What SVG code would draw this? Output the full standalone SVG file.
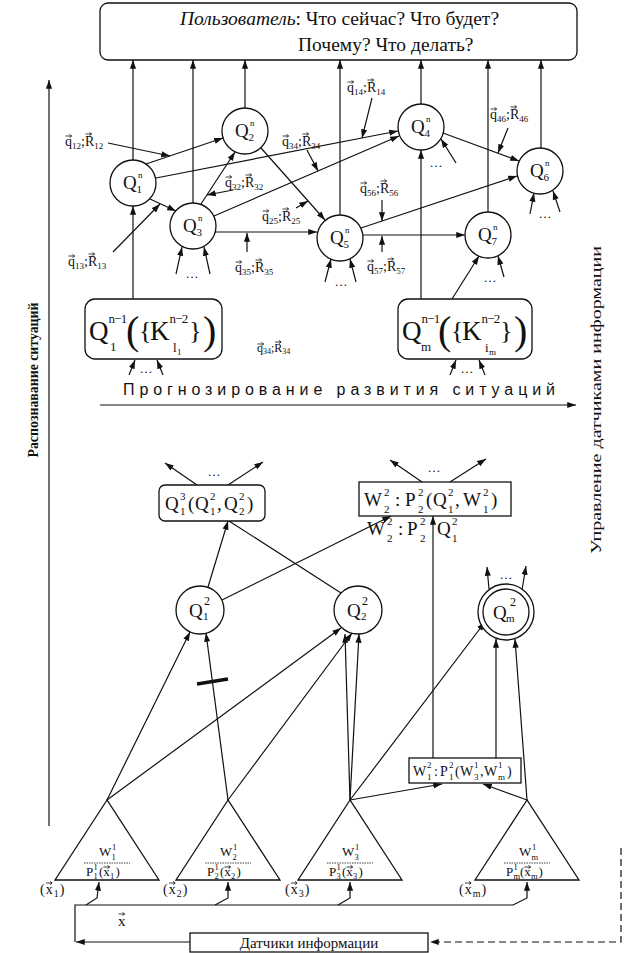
<svg xmlns="http://www.w3.org/2000/svg" width="630" height="953" viewBox="0 0 630 953">
<defs>
<marker id="ah" viewBox="0 0 10 8" refX="10" refY="4" markerWidth="9" markerHeight="7" markerUnits="userSpaceOnUse" orient="auto"><path d="M0,0.5 L10,4 L0,7.5 z" fill="#111"/></marker>
<path id="va" d="M0,0 h6 M4,-1.6 L6.2,0 L4,1.6" fill="none" stroke="#111" stroke-width="0.8"/>
</defs>
<style>
.ln{fill:none;stroke:#111;stroke-width:1.2}
.ar{marker-end:url(#ah)}
.nd{fill:#fff;stroke:#111;stroke-width:1.3}
.bx{fill:#fff;stroke:#111;stroke-width:1.3}
text{font-family:"Liberation Serif","Times New Roman",serif;fill:#111}
.lb{font-size:14px}
.sb{font-size:9px}
.dt{font-size:13px;text-anchor:middle}
.qn{font-size:19px}
.sc{font-size:11px}
.tr{font-size:13px}
.ts{font-size:8.5px}
.sans{font-family:"Liberation Sans",Arial,sans-serif}
</style>
<rect width="630" height="953" fill="#fff"/>

<g id="connectors">
<path class="ln ar" d="M133,160V60"/>
<path class="ln ar" d="M193,203V60"/>
<path class="ln ar" d="M245,108V60"/>
<path class="ln ar" d="M340,215V60"/>
<path class="ln ar" d="M421,104V60"/>
<path class="ln ar" d="M488,212V60"/>
<path class="ln ar" d="M541,148V60"/>
<path class="ln ar" d="M146,164L223,138"/>
<path class="ln ar" d="M156,178L398,131"/>
<path class="ln ar" d="M150,199L176,211"/>
<path class="ln ar" d="M201,204L235,152"/>
<path class="ln ar" d="M214,216L399,136"/>
<path class="ln ar" d="M261,148L325,220"/>
<path class="ln ar" d="M215,232H317"/>
<path class="ln ar" d="M361,228L517,176"/>
<path class="ln ar" d="M363,235H465"/>
<path class="ln ar" d="M443,133L519,161"/>
<path class="ln ar" d="M133,299V206"/>
<path class="ln ar" d="M421,299V150"/>
<path class="ln ar" d="M452,299L479,256"/>
<path class="ln ar" d="M504,277L498,256"/>
<path class="ln ar" d="M456,163L441,139"/>
<path class="ln ar" d="M176,274L182,247"/>
<path class="ln ar" d="M210,274L204,247"/>
<path class="ln ar" d="M325,282L331,259"/>
<path class="ln ar" d="M356,282L350,259"/>
<path class="ln ar" d="M530,214L534,193"/>
<path class="ln ar" d="M560,212L553,191"/>
<path class="ln ar" d="M108,143L170,156"/>
<path class="ln ar" d="M113,252L160,204"/>
<path class="ln ar" d="M233,190L207,195"/>
<path class="ln ar" d="M307,150L318,171"/>
<path class="ln ar" d="M372,98L362,138"/>
<path class="ln ar" d="M296,208L308,201"/>
<path class="ln ar" d="M247,252V233"/>
<path class="ln ar" d="M382,200V221"/>
<path class="ln ar" d="M382,252V236"/>
<path class="ln ar" d="M508,128L498,153"/>
<path class="ln ar" d="M129,375L135,360"/>
<path class="ln ar" d="M163,375L157,360"/>
<path class="ln ar" d="M450,375L456,360"/>
<path class="ln ar" d="M485,375L479,360"/>
<path class="ln ar" d="M100,405H576"/>
<path class="ln ar" d="M49,826V80"/>
<path class="ln ar" d="M197,485L165,463"/>
<path class="ln ar" d="M228,485L263,462"/>
<path class="ln ar" d="M422,482L390,460"/>
<path class="ln ar" d="M450,482L486,459"/>
<path class="ln ar" d="M489,589L487,567"/>
<path class="ln ar" d="M522,590L526,566"/>
<path class="ln ar" d="M208,587L228,521"/>
<path class="ln" d="M341,593L229,521"/>
<path class="ln ar" d="M222,600L391,516"/>
<path class="ln ar" d="M433,758V516"/>
<path class="ln ar" d="M496,758V639"/>
<path class="ln ar" d="M107,800L190,632"/>
<path class="ln ar" d="M107,800L341,628"/>
<path class="ln ar" d="M228,800L206,633"/>
<path class="ln ar" d="M228,800L352,633"/>
<path class="ln ar" d="M350,800L345,634"/>
<path class="ln ar" d="M350,800L359,634"/>
<path class="ln ar" d="M350,800L485,622"/>
<path class="ln ar" d="M350,800L442,784"/>
<path class="ln ar" d="M527,800L483,784"/>
<path class="ln ar" d="M527,800L515,639"/>
<path d="M197,684L228,679" fill="none" stroke="#111" stroke-width="3.5"/>
<path class="ln ar" d="M190,942H76"/>
<path class="ln" d="M75,942V905H513"/>
<path class="ln ar" d="M86,905L97,898L99,882"/>
<path class="ln ar" d="M215,905L228,898L228,882"/>
<path class="ln ar" d="M338,905L350,898L350,882"/>
<path class="ln ar" d="M513,905L527,898L527,882"/>
<path class="ln ar" d="M621,848V942H430" stroke-dasharray="7,4"/>
</g>

<g id="user">
<rect class="bx" x="100" y="3" width="477" height="57" rx="8"/>
<text x="180" y="25" font-size="19.5"><tspan font-style="italic">Пользователь</tspan>: Что сейчас? Что будет?</text>
<text x="298" y="51" font-size="19.5">Почему? Что делать?</text>
</g>

<g id="Q1n"><circle class="nd" cx="133" cy="183" r="23"/><text class="qn" x="123" y="189">Q</text><text class="sc" x="136.5" y="193">1</text><text class="sb" x="138" y="178">n</text></g>
<g id="Q2n"><circle class="nd" cx="245" cy="131" r="23"/><text class="qn" x="235" y="137">Q</text><text class="sc" x="248.5" y="141">2</text><text class="sb" x="250" y="126">n</text></g>
<g id="Q3n"><circle class="nd" cx="193" cy="226" r="23"/><text class="qn" x="183" y="232">Q</text><text class="sc" x="196.5" y="236">3</text><text class="sb" x="198" y="221">n</text></g>
<g id="Q4n"><circle class="nd" cx="421" cy="127" r="23"/><text class="qn" x="411" y="133">Q</text><text class="sc" x="424.5" y="137">4</text><text class="sb" x="426" y="122">n</text></g>
<g id="Q5n"><circle class="nd" cx="340" cy="238" r="23"/><text class="qn" x="330" y="244">Q</text><text class="sc" x="343.5" y="248">5</text><text class="sb" x="345" y="233">n</text></g>
<g id="Q6n"><circle class="nd" cx="540" cy="171" r="23"/><text class="qn" x="530" y="177">Q</text><text class="sc" x="543.5" y="181">6</text><text class="sb" x="545" y="166">n</text></g>
<g id="Q7n"><circle class="nd" cx="488" cy="235" r="23"/><text class="qn" x="478" y="241">Q</text><text class="sc" x="491.5" y="245">7</text><text class="sb" x="493" y="230">n</text></g>

<g id="labels">
<g><text class="lb" x="65" y="146">q<tspan class="sb" dy="3">12</tspan><tspan dy="-3">;R</tspan><tspan class="sb" dy="3">12</tspan></text><use href="#va" x="65.5" y="136"/><use href="#va" x="85.5" y="134"/></g>
<g><text class="lb" x="68" y="266">q<tspan class="sb" dy="3">13</tspan><tspan dy="-3">;R</tspan><tspan class="sb" dy="3">13</tspan></text><use href="#va" x="68.5" y="256"/><use href="#va" x="88.5" y="254"/></g>
<g><text class="lb" x="225" y="187">q<tspan class="sb" dy="3">32</tspan><tspan dy="-3">;R</tspan><tspan class="sb" dy="3">32</tspan></text><use href="#va" x="225.5" y="177"/><use href="#va" x="245.5" y="175"/></g>
<g><text class="lb" x="282" y="146">q<tspan class="sb" dy="3">34</tspan><tspan dy="-3">;R</tspan><tspan class="sb" dy="3">34</tspan></text><use href="#va" x="282.5" y="136"/><use href="#va" x="302.5" y="134"/></g>
<g><text class="lb" x="347" y="92">q<tspan class="sb" dy="3">14</tspan><tspan dy="-3">;R</tspan><tspan class="sb" dy="3">14</tspan></text><use href="#va" x="347.5" y="82"/><use href="#va" x="367.5" y="80"/></g>
<g><text class="lb" x="262" y="221">q<tspan class="sb" dy="3">25</tspan><tspan dy="-3">;R</tspan><tspan class="sb" dy="3">25</tspan></text><use href="#va" x="262.5" y="211"/><use href="#va" x="282.5" y="209"/></g>
<g><text class="lb" x="235" y="272">q<tspan class="sb" dy="3">35</tspan><tspan dy="-3">;R</tspan><tspan class="sb" dy="3">35</tspan></text><use href="#va" x="235.5" y="262"/><use href="#va" x="255.5" y="260"/></g>
<g><text class="lb" x="360" y="193">q<tspan class="sb" dy="3">56</tspan><tspan dy="-3">;R</tspan><tspan class="sb" dy="3">56</tspan></text><use href="#va" x="360.5" y="183"/><use href="#va" x="380.5" y="181"/></g>
<g><text class="lb" x="367" y="271">q<tspan class="sb" dy="3">57</tspan><tspan dy="-3">;R</tspan><tspan class="sb" dy="3">57</tspan></text><use href="#va" x="367.5" y="261"/><use href="#va" x="387.5" y="259"/></g>
<g><text class="lb" x="490" y="119">q<tspan class="sb" dy="3">46</tspan><tspan dy="-3">;R</tspan><tspan class="sb" dy="3">46</tspan></text><use href="#va" x="490.5" y="109"/><use href="#va" x="510.5" y="107"/></g>
<g><text x="257" y="352" font-size="12">q<tspan font-size="8" dy="2">34</tspan><tspan dy="-2">;R</tspan><tspan font-size="8" dy="2">34</tspan></text><use href="#va" x="257.5" y="344"/><use href="#va" x="275" y="342"/></g>
<text class="dt" x="192" y="278">…</text>
<text class="dt" x="341" y="286">…</text>
<text class="dt" x="545" y="218">…</text>
<text class="dt" x="490" y="282">…</text>
<text class="dt" x="436" y="167">…</text>
<text class="dt" x="146" y="373">…</text>
<text class="dt" x="467" y="373">…</text>
<text class="dt" x="214" y="476">…</text>
<text class="dt" x="434" y="472">…</text>
<text class="dt" x="506" y="579">…</text>
</g>

<g id="Qn1-1">
<rect class="bx" x="85" y="299" width="137" height="60" rx="10"/>
<text x="89" y="340" font-size="27">Q</text>
<text x="108.5" y="323" font-size="13" letter-spacing="-0.8">n−1</text>
<text x="110" y="351" font-size="13">1</text>
<text x="126" y="344" font-size="40">(</text>
<text x="139" y="339" font-size="26">{</text>
<text x="150" y="340" font-size="27">K</text>
<text x="169.5" y="323" font-size="13" letter-spacing="-0.8">n−2</text>
<text x="173" y="352" font-size="13">l</text><text x="177" y="355" font-size="9">1</text>
<text x="189" y="339" font-size="26">}</text>
<text x="203" y="344" font-size="40">)</text>
</g>
<g id="Qn1-m">
<rect class="bx" x="398" y="299" width="134" height="60" rx="10"/>
<text x="402" y="340" font-size="27">Q</text>
<text x="421.5" y="323" font-size="13" letter-spacing="-0.8">n−1</text>
<text x="421" y="351" font-size="13">m</text>
<text x="438" y="344" font-size="40">(</text>
<text x="451" y="339" font-size="26">{</text>
<text x="462" y="340" font-size="27">K</text>
<text x="481.5" y="323" font-size="13" letter-spacing="-0.8">n−2</text>
<text x="485" y="352" font-size="13">i</text><text x="489" y="355" font-size="9">m</text>
<text x="500" y="339" font-size="26">}</text>
<text x="514" y="344" font-size="40">)</text>
</g>

<g id="axes-text">
<text class="sans" x="123" y="395" font-size="16" textLength="432" lengthAdjust="spacing">Прогнозирование развития ситуаций</text>
<text transform="translate(38,380) rotate(-90)" text-anchor="middle" font-family="Liberation Sans Narrow,Liberation Sans,Arial,sans-serif" font-weight="bold" font-size="15" textLength="155" lengthAdjust="spacingAndGlyphs">Распознавание ситуаций</text>
<text transform="translate(601,400) rotate(-90)" text-anchor="middle" font-family="Liberation Sans Narrow,Liberation Sans,Arial,sans-serif" font-size="15" textLength="308" lengthAdjust="spacingAndGlyphs">Управление датчиками информации</text>
</g>

<g id="Q13">
<rect class="bx" x="159" y="485" width="106" height="36" rx="6"/>
<text class="qn" x="165" y="510">Q</text><text class="sc" x="180" y="500">3</text><text class="sc" x="180" y="515">1</text>
<text class="qn" x="188" y="510">(</text>
<text class="qn" x="195" y="510">Q</text><text class="sc" x="210" y="500">2</text><text class="sc" x="210" y="515">1</text>
<text class="qn" x="217" y="510">,</text>
<text class="qn" x="224" y="510">Q</text><text class="sc" x="239" y="500">2</text><text class="sc" x="239" y="515">2</text>
<text class="qn" x="247" y="510">)</text>
</g>
<g id="W22">
<rect class="bx" x="359" y="482" width="152" height="34"/>
<text class="qn" x="364" y="506">W</text><text class="sc" x="384" y="496">2</text><text class="sc" x="384" y="513">2</text>
<text class="qn" x="395" y="506">:</text>
<text class="qn" x="405" y="506">P</text><text class="sc" x="418" y="496">2</text><text class="sc" x="418" y="513">2</text>
<text class="qn" x="426" y="506">(</text>
<text class="qn" x="433" y="506">Q</text><text class="sc" x="448" y="496">2</text><text class="sc" x="448" y="513">1</text>
<text class="qn" x="455" y="506">,</text>
<text class="qn" x="463" y="506">W</text><text class="sc" x="483" y="496">2</text><text class="sc" x="483" y="513">1</text>
<text class="qn" x="491" y="506">)</text>
</g>
<g id="W22-note">
<text class="qn" x="367" y="535">W</text><text class="sc" x="387" y="525">2</text><text class="sc" x="387" y="542">2</text>
<text class="qn" x="398" y="535">:</text>
<text class="qn" x="407" y="535">P</text><text class="sc" x="420" y="525">2</text><text class="sc" x="420" y="542">2</text>
<text class="qn" x="437" y="535">Q</text><text class="sc" x="452" y="525">2</text><text class="sc" x="452" y="542">1</text>
</g>

<g id="Q12"><circle class="nd" cx="200" cy="610" r="24"/><text class="qn" x="189" y="617">Q</text><text class="sc" x="203" y="620">1</text><text font-size="12" x="204" y="605">2</text></g>
<g id="Q22"><circle class="nd" cx="358" cy="610" r="24"/><text class="qn" x="347" y="617">Q</text><text class="sc" x="361" y="620">2</text><text font-size="12" x="362" y="605">2</text></g>
<g id="Qm2"><circle class="nd" cx="506" cy="612" r="28"/><circle class="nd" cx="506" cy="612" r="23"/><text class="qn" x="493" y="619">Q</text><text class="sc" x="506" y="622">m</text><text font-size="12" x="510" y="606">2</text></g>

<g id="W12">
<rect class="bx" x="409" y="758" width="112" height="25"/>
<text x="413" y="776" font-size="14">W</text><text font-size="9" x="427" y="768">2</text><text font-size="9" x="427" y="780">1</text>
<text x="434" y="776" font-size="14">:</text>
<text x="440" y="776" font-size="14">P</text><text font-size="9" x="449" y="768">2</text><text font-size="9" x="449" y="780">1</text>
<text x="455" y="776" font-size="14">(</text>
<text x="460" y="776" font-size="14">W</text><text font-size="9" x="474" y="768">1</text><text font-size="9" x="474" y="780">3</text>
<text x="480" y="776" font-size="14">,</text>
<text x="484" y="776" font-size="14">W</text><text font-size="9" x="498" y="768">1</text><text font-size="9" x="498" y="780">m</text>
<text x="507" y="776" font-size="14">)</text>
</g>

<g id="T1">
<polygon class="nd" points="107,800 55,880 159,880"/>
<text class="tr" x="99" y="856">W</text><text class="ts" x="112" y="850">1</text><text class="ts" x="111.5" y="860">1</text>
<path d="M84,863H130" stroke="#111" stroke-width="0.8" stroke-dasharray="1.5,1"/>
<text class="tr" x="86" y="876">P</text><text class="ts" x="93.5" y="870">1</text><text class="ts" x="93.5" y="879">1</text>
<text class="tr" x="99" y="876">(x</text><text class="ts" x="110" y="879">1</text><text class="tr" x="115.5" y="876">)</text><use href="#va" x="103.5" y="867"/>
</g>
<g id="T2">
<polygon class="nd" points="228,800 176,880 280,880"/>
<text class="tr" x="220" y="856">W</text><text class="ts" x="233" y="850">1</text><text class="ts" x="232.5" y="860">2</text>
<path d="M205,863H251" stroke="#111" stroke-width="0.8" stroke-dasharray="1.5,1"/>
<text class="tr" x="207" y="876">P</text><text class="ts" x="214.5" y="870">1</text><text class="ts" x="214.5" y="879">2</text>
<text class="tr" x="220" y="876">(x</text><text class="ts" x="231" y="879">2</text><text class="tr" x="236.5" y="876">)</text><use href="#va" x="224.5" y="867"/>
</g>
<g id="T3">
<polygon class="nd" points="350,800 298,880 402,880"/>
<text class="tr" x="342" y="856">W</text><text class="ts" x="355" y="850">1</text><text class="ts" x="354.5" y="860">3</text>
<path d="M327,863H373" stroke="#111" stroke-width="0.8" stroke-dasharray="1.5,1"/>
<text class="tr" x="329" y="876">P</text><text class="ts" x="336.5" y="870">1</text><text class="ts" x="336.5" y="879">3</text>
<text class="tr" x="342" y="876">(x</text><text class="ts" x="353" y="879">3</text><text class="tr" x="358.5" y="876">)</text><use href="#va" x="346.5" y="867"/>
</g>
<g id="T4">
<polygon class="nd" points="527,800 475,880 579,880"/>
<text class="tr" x="519" y="856">W</text><text class="ts" x="532" y="850">1</text><text class="ts" x="531.5" y="860">m</text>
<path d="M504,863H550" stroke="#111" stroke-width="0.8" stroke-dasharray="1.5,1"/>
<text class="tr" x="506" y="876">P</text><text class="ts" x="513.5" y="870">1</text><text class="ts" x="513.5" y="879">m</text>
<text class="tr" x="520" y="876">(x</text><text class="ts" x="531" y="879">m</text><text class="tr" x="538.5" y="876">)</text><use href="#va" x="524.5" y="867"/>
</g>

<g id="inputs">
<text x="40" y="894" font-size="14" letter-spacing="1">(x<tspan font-size="10" dy="3">1</tspan><tspan dy="-3">)</tspan></text><use href="#va" x="46" y="883"/>
<text x="163" y="894" font-size="14" letter-spacing="1">(x<tspan font-size="10" dy="3">2</tspan><tspan dy="-3">)</tspan></text><use href="#va" x="169" y="883"/>
<text x="285" y="894" font-size="14" letter-spacing="1">(x<tspan font-size="10" dy="3">3</tspan><tspan dy="-3">)</tspan></text><use href="#va" x="291" y="883"/>
<text x="459" y="894" font-size="14" letter-spacing="1">(x<tspan font-size="10" dy="3">m</tspan><tspan dy="-3">)</tspan></text><use href="#va" x="465" y="883"/>
<text x="118" y="926" font-size="15">x</text><use href="#va" x="118.5" y="914"/>
</g>

<g id="sensors">
<rect class="bx" x="190" y="933" width="238" height="19"/>
<text x="309" y="948" font-size="15" text-anchor="middle">Датчики информации</text>
</g>
</svg>
